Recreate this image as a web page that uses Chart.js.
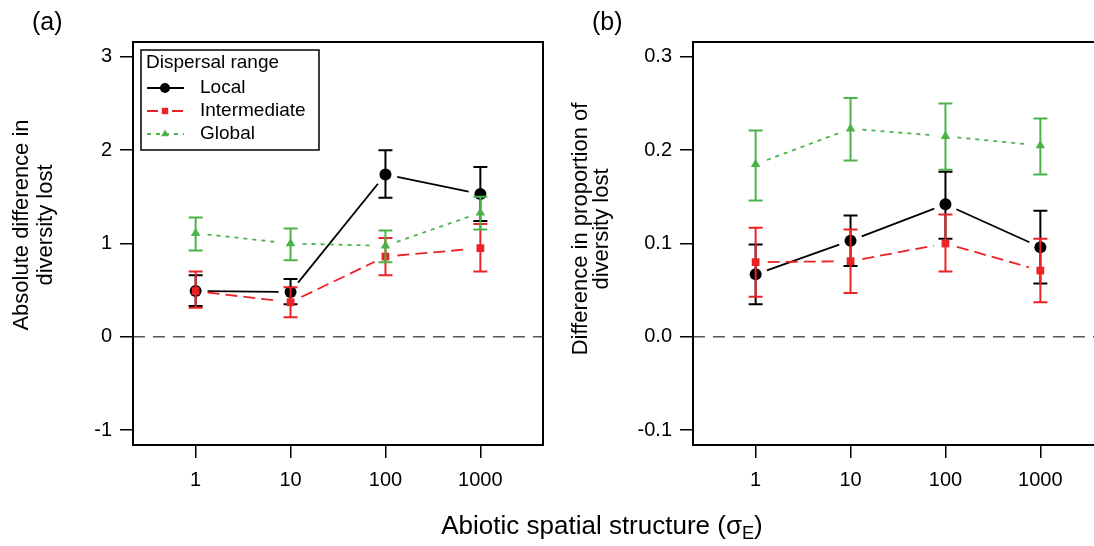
<!DOCTYPE html>
<html>
<head>
<meta charset="utf-8">
<script src="https://cdn.jsdelivr.net/npm/chart.js@4"></script>
<style>
  html, body { margin: 0; padding: 0; background: #fff; width: 1094px; height: 546px; overflow: hidden; position: relative; }
  .panel { position: absolute; top: 0; width: 560px; height: 546px; }
  #pa { left: 0; }
  #pb { left: 560px; }
  #xtitle {
    position: absolute; left: 302px; width: 600px; top: 510px; text-align: center;
    font: 26px "Liberation Sans", Arial, sans-serif; line-height: 30px; color: #000; white-space: nowrap;
  }
  #xtitle sub { font-size: 70%; vertical-align: -0.3em; line-height: 0; }
</style>
</head>
<body>
<div class="panel" id="pa"><canvas id="chartA" width="560" height="546"></canvas></div>
<div class="panel" id="pb"><canvas id="chartB" width="560" height="546"></canvas></div>
<div id="xtitle">Abiotic spatial structure (σ<sub>E</sub>)</div>
<script>
// ── Data ──────────────────────────────────────────────────────────────────────
const X_LABELS = ['1', '10', '100', '1000'];
const SERIES_NAMES = ['Local', 'Intermediate', 'Global'];

// panel (a): absolute difference in diversity lost
const A_LOCAL     = [0.49, 0.48, 1.74, 1.53];
const A_LOCAL_LO  = [0.33, 0.35, 1.49, 1.24];
const A_LOCAL_HI  = [0.66, 0.62, 2.00, 1.82];
const A_INTER     = [0.49, 0.37, 0.86, 0.95];
const A_INTER_LO  = [0.31, 0.21, 0.66, 0.70];
const A_INTER_HI  = [0.70, 0.53, 1.06, 1.21];
const A_GLOBAL    = [1.11, 1.00, 0.975, 1.33];
const A_GLOBAL_LO = [0.925, 0.82, 0.80, 1.15];
const A_GLOBAL_HI = [1.28, 1.16, 1.14, 1.50];
const A_TICKS = [-1, 0, 1, 2, 3];

// panel (b): difference in proportion of diversity lost
const B_LOCAL     = [0.067, 0.103, 0.142, 0.096];
const B_LOCAL_LO  = [0.035, 0.076, 0.105, 0.057];
const B_LOCAL_HI  = [0.099, 0.130, 0.177, 0.135];
const B_INTER     = [0.080, 0.081, 0.100, 0.071];
const B_INTER_LO  = [0.043, 0.047, 0.070, 0.037];
const B_INTER_HI  = [0.117, 0.115, 0.131, 0.105];
const B_GLOBAL    = [0.185, 0.223, 0.215, 0.205];
const B_GLOBAL_LO = [0.146, 0.189, 0.179, 0.174];
const B_GLOBAL_HI = [0.221, 0.256, 0.250, 0.234];
const B_TICKS = [-0.1, 0.0, 0.1, 0.2, 0.3];

// ── Style ─────────────────────────────────────────────────────────────────────
const FONT = '"Liberation Sans", Arial, sans-serif';
const STYLES = [
  { color: '#000000', dash: [],      point: 'circle',   radius: 6 },
  { color: '#ec2227', dash: [12, 6], point: 'rect',     radius: 5.5 },
  { color: '#4cb34b', dash: [4, 5],  point: 'triangle', radius: 5.5 },
];
const LINE_W = 1.8;
const GAP = 12;       // gap between line and point (R type="b")
const CAP = 7;        // half width of error bar caps

function buildDatasets(vals, los, his) {
  return vals.map((v, s) => ({
    label: SERIES_NAMES[s],
    data: v.map((y, i) => ({ x: i + 1, y })),
    lo: los[s], hi: his[s],
    dash: STYLES[s].dash,
    showLine: false,
    pointStyle: STYLES[s].point,
    pointRadius: STYLES[s].radius,
    pointBackgroundColor: STYLES[s].color,
    pointBorderColor: STYLES[s].color,
    pointBorderWidth: 0,
    borderColor: STYLES[s].color,
    order: 3 - s,   // black at the bottom, green on top
  }));
}

// ── Decoration plugin: gapped lines, error bars, box, zero line, titles, legend
const decor = {
  id: 'decor',
  beforeDatasetsDraw(chart) {
    const { ctx, chartArea: a, scales } = chart;
    const y0 = scales.y.getPixelForValue(0);
    ctx.save();
    ctx.strokeStyle = '#555';
    ctx.lineWidth = 1.4;
    ctx.setLineDash([12, 8]);
    ctx.beginPath(); ctx.moveTo(a.left, y0); ctx.lineTo(a.right, y0); ctx.stroke();
    ctx.restore();
  },
  beforeDatasetDraw(chart, args) {
    const ds = chart.data.datasets[args.index];
    const pts = args.meta.data;
    const ctx = chart.ctx;
    ctx.save();
    ctx.strokeStyle = ds.borderColor;
    ctx.lineWidth = LINE_W;
    ctx.setLineDash(ds.dash);
    for (let i = 0; i < pts.length - 1; i++) {
      const p = pts[i], q = pts[i + 1];
      const dx = q.x - p.x, dy = q.y - p.y, L = Math.hypot(dx, dy);
      if (L <= 2 * GAP) continue;
      const ux = dx / L, uy = dy / L;
      ctx.beginPath();
      ctx.moveTo(p.x + ux * GAP, p.y + uy * GAP);
      ctx.lineTo(q.x - ux * GAP, q.y - uy * GAP);
      ctx.stroke();
    }
    ctx.restore();
  },
  afterDatasetDraw(chart, args) {
    const ds = chart.data.datasets[args.index];
    const ys = chart.scales.y;
    const ctx = chart.ctx;
    ctx.save();
    ctx.strokeStyle = ds.borderColor;
    ctx.lineWidth = 2;
    args.meta.data.forEach((p, i) => {
      const top = ys.getPixelForValue(ds.hi[i]);
      const bot = ys.getPixelForValue(ds.lo[i]);
      ctx.beginPath();
      ctx.moveTo(p.x, top); ctx.lineTo(p.x, bot);
      ctx.moveTo(p.x - CAP, top); ctx.lineTo(p.x + CAP, top);
      ctx.moveTo(p.x - CAP, bot); ctx.lineTo(p.x + CAP, bot);
      ctx.stroke();
    });
    ctx.restore();
  },
  afterDraw(chart, args, opts) {
    const { ctx, chartArea: a } = chart;
    ctx.save();
    // box
    ctx.strokeStyle = '#000';
    ctx.lineWidth = 2;
    ctx.strokeRect(a.left, a.top, a.right - a.left, a.bottom - a.top);
    // panel label
    ctx.fillStyle = '#000';
    ctx.font = `25px ${FONT}`;
    ctx.textAlign = 'left';
    ctx.textBaseline = 'alphabetic';
    ctx.fillText(opts.label, 32, 30);
    // y title (two lines, rotated)
    ctx.font = `22px ${FONT}`;
    ctx.textAlign = 'center';
    opts.yTitle.forEach((line, k) => {
      ctx.save();
      ctx.translate(opts.yTitleX[k], opts.yTitleY);
      ctx.rotate(-Math.PI / 2);
      ctx.fillText(line, 0, 0);
      ctx.restore();
    });
    // legend
    if (opts.legend) {
      const L = { x: 141, y: 50, w: 178, h: 100 };
      ctx.lineWidth = 1.5;
      ctx.strokeStyle = '#000';
      ctx.strokeRect(L.x, L.y, L.w, L.h);
      ctx.font = `19px ${FONT}`;
      ctx.textAlign = 'left';
      ctx.textBaseline = 'middle';
      ctx.fillText('Dispersal range', L.x + 5, L.y + 13);
      SERIES_NAMES.forEach((name, s) => {
        const st = STYLES[s];
        const ry = L.y + 38 + s * 23;
        ctx.save();
        ctx.strokeStyle = st.color;
        ctx.lineWidth = LINE_W;
        ctx.setLineDash(s === 2 ? [4, 5] : []);
        if (s === 1) {
          ctx.beginPath(); ctx.moveTo(147, ry); ctx.lineTo(158, ry);
          ctx.moveTo(172, ry); ctx.lineTo(183, ry); ctx.stroke();
        } else {
          ctx.beginPath(); ctx.moveTo(147, ry); ctx.lineTo(184, ry); ctx.stroke();
        }
        ctx.setLineDash([]);
        ctx.fillStyle = st.color;
        Chart.helpers.drawPoint(ctx, { pointStyle: st.point, radius: st.radius - 1, rotation: 0, borderWidth: 0 }, 165, ry);
        ctx.restore();
        ctx.fillStyle = '#000';
        ctx.fillText(name, 200, ry);
      });
    }
    ctx.restore();
  },
};

function makeChart(id, vals, los, his, yTicks, yFmt, opts) {
  const span = yTicks[yTicks.length - 1] - yTicks[0];
  return new Chart(document.getElementById(id), {
    type: 'scatter',
    data: { datasets: buildDatasets(vals, los, his) },
    plugins: [decor],
    options: {
      responsive: false,
      animation: false,
      events: [],
      layout: { padding: { left: 0, right: 17, top: 42, bottom: 0 } },
      plugins: { legend: { display: false }, tooltip: { enabled: false }, decor: opts },
      scales: {
        x: {
          type: 'linear', min: 0.34, max: 4.66,
          afterBuildTicks: s => { s.ticks = X_LABELS.map((_, i) => ({ value: i + 1 })); },
          afterFit: s => { s.height = 101; },
          ticks: {
            callback: v => X_LABELS[Math.round(v) - 1],
            color: '#000', font: { family: FONT, size: 20 }, padding: 10,
            maxRotation: 0, autoSkip: false,
          },
          grid: { drawOnChartArea: false, drawTicks: true, tickLength: 13, color: '#000', lineWidth: 1.5 },
          border: { display: false },
        },
        y: {
          min: yTicks[0] - 0.04 * span, max: yTicks[yTicks.length - 1] + 0.04 * span,
          afterBuildTicks: s => { s.ticks = yTicks.map(v => ({ value: v })); },
          afterFit: s => { s.width = 133; },
          ticks: {
            callback: yFmt,
            color: '#000', font: { family: FONT, size: 20 }, padding: 8, autoSkip: false,
          },
          grid: { drawOnChartArea: false, drawTicks: true, tickLength: 13, color: '#000', lineWidth: 1.5 },
          border: { display: false },
        },
      },
    },
  });
}

makeChart('chartA',
  [A_LOCAL, A_INTER, A_GLOBAL], [A_LOCAL_LO, A_INTER_LO, A_GLOBAL_LO], [A_LOCAL_HI, A_INTER_HI, A_GLOBAL_HI],
  A_TICKS, v => String(Math.round(v)),
  { label: '(a)', yTitle: ['Absolute difference in', 'diversity lost'], yTitleX: [28, 52], yTitleY: 225, legend: true });

makeChart('chartB',
  [B_LOCAL, B_INTER, B_GLOBAL], [B_LOCAL_LO, B_INTER_LO, B_GLOBAL_LO], [B_LOCAL_HI, B_INTER_HI, B_GLOBAL_HI],
  B_TICKS, v => (Math.round(v * 10) / 10).toFixed(1),
  { label: '(b)', yTitle: ['Difference in proportion of', 'diversity lost'], yTitleX: [27, 48], yTitleY: 229, legend: false });
</script>
</body>
</html>
